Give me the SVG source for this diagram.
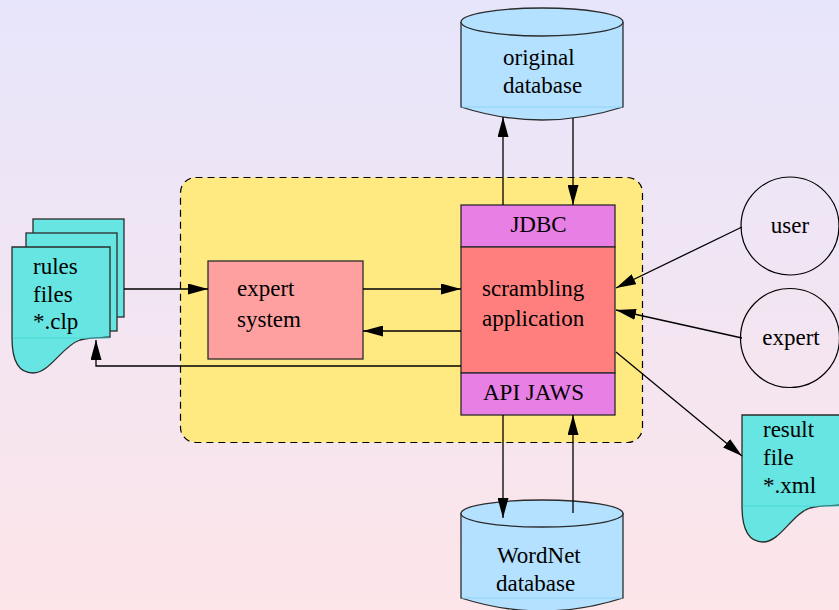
<svg xmlns="http://www.w3.org/2000/svg" width="839" height="610" viewBox="0 0 839 610" font-family="Liberation Serif">
  <defs>
    <linearGradient id="bg" x1="0" y1="0" x2="0" y2="1">
      <stop offset="0" stop-color="#e7e5fb"/>
      <stop offset="1" stop-color="#fde5e9"/>
    </linearGradient>
    <marker id="arrow" markerUnits="userSpaceOnUse" viewBox="0 0 20 11" refX="20" refY="5.5" markerWidth="20" markerHeight="11" orient="auto">
      <path d="M0,0 L20,5.5 L0,11 Z" fill="#000"/>
    </marker>
  </defs>
  <style>
    .edge { fill: none; stroke: #000; stroke-width: 1.3; marker-end: url(#arrow); }
    .box { stroke: #2b2b2b; stroke-width: 1.3; }
    .db { fill: #b4e1ff; stroke: #2b2b2b; stroke-width: 1.3; }
    .page { fill: #66e5e2; stroke: #2b2b2b; stroke-width: 1.3; }
    .seam { stroke: #8fd4f5; stroke-width: 1; }
    .pseam { stroke: #4fd8d8; stroke-width: 1; }
  </style>

  <!-- background -->
  <rect x="0" y="0" width="839" height="610" fill="url(#bg)"/>

  <!-- application frame -->
  <g id="frame">
    <rect x="180.5" y="177.5" width="462" height="265" rx="15" ry="15" fill="#ffe981" stroke="#000" stroke-width="1.2" stroke-dasharray="7,5"/>
  </g>

  <!-- original database -->
  <g id="original-db">
    <path class="db" d="M461,22 V107 Q542,133 623,107 V22"/>
    <line class="seam" x1="462" y1="107" x2="622" y2="107"/>
    <ellipse class="db" cx="542" cy="22" rx="81" ry="14"/>
    <text x="503" y="65" style="font-family:'Liberation Serif',serif;font-size:23px">original</text>
    <text x="503" y="93" style="font-family:'Liberation Serif',serif;font-size:23px">database</text>
  </g>

  <!-- WordNet database -->
  <g id="wordnet-db">
    <path class="db" d="M461,513 V598 Q542,624 623,598 V513"/>
    <line class="seam" x1="462" y1="598" x2="622" y2="598"/>
    <ellipse class="db" cx="542" cy="513.5" rx="81" ry="13.5"/>
    <text x="497" y="563" style="font-family:'Liberation Serif',serif;font-size:23px">WordNet</text>
    <text x="496" y="591" style="font-family:'Liberation Serif',serif;font-size:23px">database</text>
  </g>

  <!-- rules files (stack of pages) -->
  <g id="rules-files">
    <rect class="page" x="33" y="219" width="91" height="98"/>
    <rect class="page" x="26" y="233" width="91" height="98"/>
    <path class="page" d="M12,247 H110 V337 C102,338 92,337 80,340 C62,346 50,373 33,373 C20,373 12,362 12,338 Z"/>
    <line class="pseam" x1="13" y1="338" x2="109" y2="338"/>
    <text x="33" y="274" style="font-family:'Liberation Serif',serif;font-size:23px">rules</text>
    <text x="33" y="302" style="font-family:'Liberation Serif',serif;font-size:23px">files</text>
    <text x="33" y="329" style="font-family:'Liberation Serif',serif;font-size:23px">*.clp</text>
  </g>

  <!-- expert system -->
  <g id="expert-system">
    <rect class="box" x="208" y="261" width="155" height="98" fill="#ffa0a0"/>
    <text x="237" y="296" style="font-family:'Liberation Serif',serif;font-size:23px">expert</text>
    <text x="237" y="327" style="font-family:'Liberation Serif',serif;font-size:23px">system</text>
  </g>

  <!-- scrambling application with its JDBC and API JAWS layers -->
  <g id="scrambling-app">
    <rect class="box" x="461" y="205" width="154" height="42" fill="#e77fe5"/>
    <rect class="box" x="461" y="247" width="154" height="126" fill="#ff7f7f"/>
    <rect class="box" x="461" y="373" width="154" height="42" fill="#e77fe5"/>
    <text x="538.5" y="232" text-anchor="middle" style="font-family:'Liberation Serif',serif;font-size:23px">JDBC</text>
    <text x="482" y="296" style="font-family:'Liberation Serif',serif;font-size:23px">scrambling</text>
    <text x="482" y="326" style="font-family:'Liberation Serif',serif;font-size:23px">application</text>
    <text x="483" y="400" style="font-family:'Liberation Serif',serif;font-size:23px">API JAWS</text>
  </g>

  <!-- actors -->
  <g id="user">
    <circle cx="790" cy="226" r="49" fill="none" stroke="#000" stroke-width="1.2"/>
    <text x="790" y="233" text-anchor="middle" style="font-family:'Liberation Serif',serif;font-size:23px">user</text>
  </g>
  <g id="expert">
    <circle cx="790" cy="338" r="49.5" fill="none" stroke="#000" stroke-width="1.2"/>
    <text x="791" y="345" text-anchor="middle" style="font-family:'Liberation Serif',serif;font-size:23px">expert</text>
  </g>

  <!-- result file -->
  <g id="result-file">
    <path class="page" d="M742,415 H841 V505 C832,506 822,505 810,508 C792,514 780,542 763,542 C750,542 742,531 742,506 Z"/>
    <line class="pseam" x1="743" y1="506" x2="839" y2="506"/>
    <text x="763" y="437" style="font-family:'Liberation Serif',serif;font-size:23px">result</text>
    <text x="763" y="465" style="font-family:'Liberation Serif',serif;font-size:23px">file</text>
    <text x="763" y="493" style="font-family:'Liberation Serif',serif;font-size:23px">*.xml</text>
  </g>

  <!-- connectors -->
  <g id="connectors">
    <path class="edge" d="M124,289 H208"/>
    <path class="edge" d="M461,366 H96 V340"/>
    <path class="edge" d="M363,289 H461"/>
    <path class="edge" d="M461,331 H363"/>
    <path class="edge" d="M503,205 V117"/>
    <path class="edge" d="M573,118 V205"/>
    <path class="edge" d="M503,415 V518"/>
    <path class="edge" d="M573,513 V415"/>
    <path class="edge" d="M742,227 L616,288"/>
    <path class="edge" d="M742,338 L616,310"/>
    <path class="edge" d="M616,352 L742,456"/>
  </g>
</svg>
